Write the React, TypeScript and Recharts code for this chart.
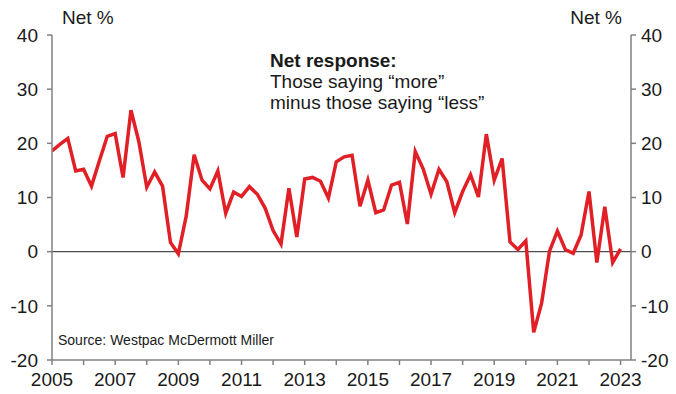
import { LineChart, Line, XAxis, YAxis, ReferenceLine } from "recharts";

// quarterly net response, 2005 Q1 – 2023 Q1
const START_YEAR = 2005;
const NET_RESPONSE = [
  18.6, 19.8, 20.9, 14.9,
  15.2, 12.1, 16.8, 21.3,
  21.8, 13.7, 26.1, 20.3,
  11.9, 14.7, 12.1, 1.7,
  -0.4, 6.6, 17.9, 13.2,
  11.6, 14.9, 7.1, 11.0,
  10.2, 12.0, 10.6, 8.0,
  3.9, 1.4, 11.7, 2.7,
  13.4, 13.7, 13.0, 9.9,
  16.6, 17.5, 17.8, 8.4,
  13.2, 7.2, 7.7, 12.3,
  12.8, 5.1, 18.5, 15.3,
  10.6, 15.2, 12.9, 7.2,
  11.1, 14.2, 10.1, 21.7,
  13.2, 17.2, 1.8, 0.4,
  2.0, -14.9, -9.5, 0.1,
  3.8, 0.4, -0.3, 3.1,
  11.1, -2.0, 8.3, -2.0,
  0.5,
];

const YEAR_TICKS = [
  2005, 2006, 2007, 2008, 2009, 2010, 2011, 2012, 2013, 2014,
  2015, 2016, 2017, 2018, 2019, 2020, 2021, 2022, 2023,
];
const Y_TICKS = [-20, -10, 0, 10, 20, 30, 40];

const data = NET_RESPONSE.map((value, i) => ({ t: START_YEAR + i / 4, value, right: value }));

const FONT = "'Liberation Sans', Arial, sans-serif";
const TEXT = "#1a1a1a";
const AXIS = "#808080";

const tickStyle = { fill: TEXT, fontSize: 19, fontFamily: FONT };
const axisLine = { stroke: AXIS, strokeWidth: 1.5 };

export default function App() {
  return (
    <div style={{ position: "absolute", left: 0, top: 0, width: 676, height: 394, background: "#fff", fontFamily: FONT, color: TEXT }}>
      <LineChart width={676} height={394} data={data} margin={{ top: 35, right: 0, bottom: 0, left: 0 }}>
        <XAxis
          dataKey="t"
          type="number"
          domain={[2005, 2023.33]}
          ticks={YEAR_TICKS}
          interval={0}
          tickFormatter={(v: number) => (v % 2 === 1 ? String(v) : "")}
          height={34}
          tickSize={5}
          tickMargin={8}
          tick={tickStyle}
          axisLine={axisLine}
          tickLine={axisLine}
          allowDataOverflow
        />
        <YAxis
          yAxisId="left"
          orientation="left"
          domain={[-20, 40]}
          ticks={Y_TICKS}
          interval={0}
          width={52}
          tickSize={5}
          tickMargin={9}
          tick={tickStyle}
          axisLine={axisLine}
          tickLine={axisLine}
        />
        <YAxis
          yAxisId="right"
          orientation="right"
          domain={[-20, 40]}
          ticks={Y_TICKS}
          interval={0}
          width={45}
          tickSize={5}
          tickMargin={5}
          tick={tickStyle}
          axisLine={axisLine}
          tickLine={axisLine}
        />
        <ReferenceLine yAxisId="left" y={0} stroke="#4d4d4d" strokeWidth={1.3} />
        <Line
          yAxisId="right"
          dataKey="right"
          stroke="none"
          dot={false}
          legendType="none"
          isAnimationActive={false}
        />
        <Line
          yAxisId="left"
          dataKey="value"
          stroke="#e01f26"
          strokeWidth={3.5}
          dot={false}
          strokeLinejoin="miter"
          isAnimationActive={false}
        />
      </LineChart>

      <div style={{ position: "absolute", left: 62, top: 7, fontSize: 19 }}>Net %</div>
      <div style={{ position: "absolute", right: 54, top: 7, fontSize: 19 }}>Net %</div>
      <div style={{ position: "absolute", left: 270, top: 50, fontSize: 19, lineHeight: "21px" }}>
        <div style={{ fontWeight: 700 }}>Net response:</div>
        <div>Those saying “more”</div>
        <div>minus those saying “less”</div>
      </div>
      <div style={{ position: "absolute", left: 58, top: 332, fontSize: 14 }}>
        Source: Westpac McDermott Miller
      </div>
    </div>
  );
}
